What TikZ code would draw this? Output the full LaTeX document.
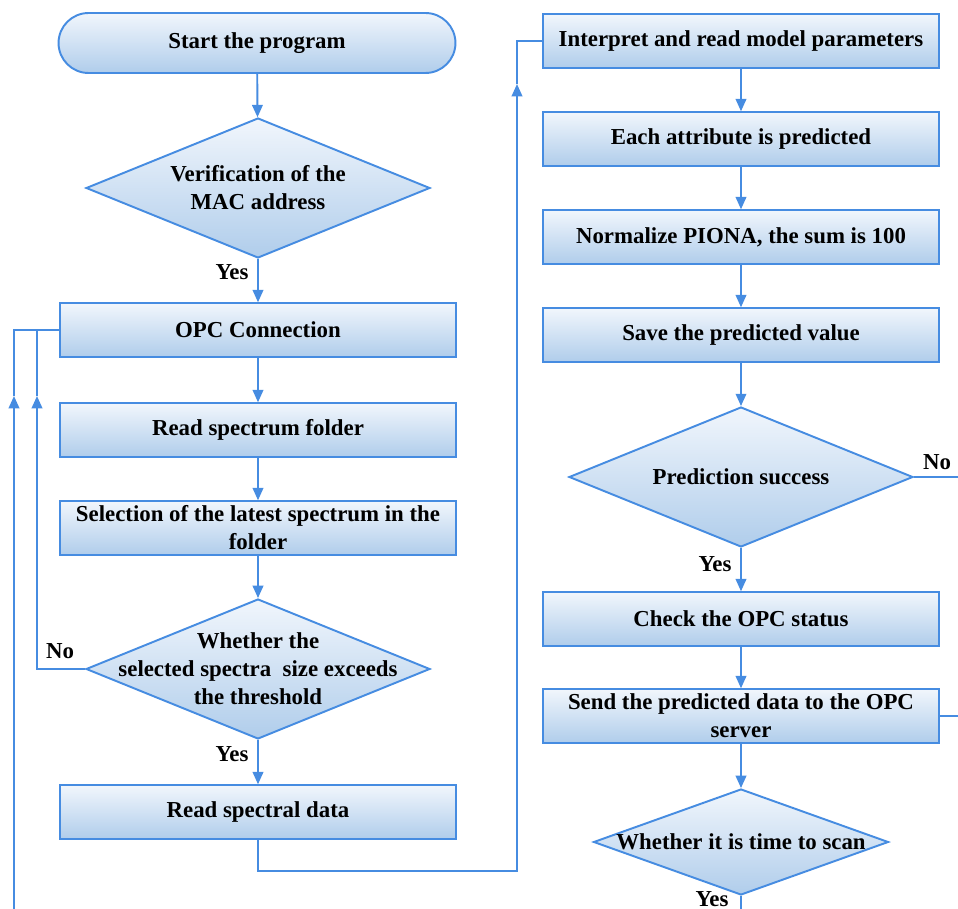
\documentclass[tikz,border=0pt]{standalone}
\usepackage{fontspec}
\setmainfont{Liberation Serif}
\usepackage{xcolor}
\usepackage{tikz}
\usetikzlibrary{shapes.geometric,arrows.meta}

\definecolor{flowblue}{RGB}{70,140,225}
\definecolor{boxtop}{RGB}{241,246,252}
\definecolor{boxbottom}{RGB}{176,205,235}

\tikzset{
   txt/.style={font=\fontsize{13}{16}\selectfont\bfseries,align=center},
   block/.style={txt,rectangle,draw=flowblue,line width=1.1pt,top color=boxtop,bottom color=boxbottom,
      minimum width=7.94cm,minimum height=1.07cm,inner sep=1pt},
   terminal/.style={block,rounded corners=0.6cm,minimum height=1.2cm},
   decision/.style={diamond,draw=flowblue,line width=1.1pt,top color=boxtop,bottom color=boxbottom,
      inner sep=0pt,minimum width=6.88cm,minimum height=2.8cm},
   line/.style={draw=flowblue,line width=1.1pt},
   arrow/.style={line,-{Triangle[length=7pt,width=6pt]}},
}

\begin{document}
\begin{tikzpicture}[x=0.02cm,y=-0.02cm]
   \useasboundingbox (0,0) rectangle (958,909);

   % Left column
   \begin{scope}
      \node[terminal] (start) at (257,43) {Start the program};
      \node[decision] (mac) at (258,188) {};
      \node[txt] (mactext) at (mac) {Verification of the\\MAC address};
      \node[block] (opc) at (258,330) {OPC Connection};
      \node[block] (folder) at (258,430) {Read spectrum folder};
      \node[block] (latest) at (258,528) {Selection of the latest spectrum in the\\folder};
      \node[decision] (size) at (258,669) {};
      \node[txt] (sizetext) at (size) {Whether the\\selected spectra\ \ size exceeds\\the threshold};
      \node[block] (spectral) at (258,812) {Read spectral data};

      \node[txt] (macyes) at (232,272) {Yes};
      \node[txt] (sizeyes) at (232,754) {Yes};
      \node[txt] (sizeno) at (60,651) {No};

      \draw[arrow] (start) -- (mac);
      \draw[arrow] (mac) -- (opc);
      \draw[arrow] (opc) -- (folder);
      \draw[arrow] (folder) -- (latest);
      \draw[arrow] (latest) -- (size);
      \draw[arrow] (size) -- (spectral);

      % loops back to OPC
      \coordinate (innertip) at (37,396);
      \coordinate (outerfoot) at (14,909);
      \coordinate (outertip) at (14,396);
      \draw[arrow] (size.west) -| (innertip);
      \draw[line] (innertip) |- (opc.west);
      \draw[arrow] (outerfoot) -- (outertip);
      \draw[line] (outertip) |- (opc.west);
   \end{scope}

   % Right column
   \begin{scope}
      \node[block] (params) at (741,41) {Interpret and read model parameters};
      \node[block] (attr) at (741,139) {Each attribute is predicted};
      \node[block] (piona) at (741,237) {Normalize PIONA, the sum is 100};
      \node[block] (save) at (741,335) {Save the predicted value};
      \node[decision] (success) at (741,477) {};
      \node[txt] (successtext) at (success) {Prediction success};
      \node[block] (status) at (741,619) {Check the OPC status};
      \node[block] (send) at (741,716) {Send the predicted data to the OPC\\server};
      \node[decision,minimum width=5.9cm,minimum height=2.12cm] (scan) at (741,842) {};
      \node[txt] (scantext) at (scan) {Whether it is time to scan};

      \node[txt] (successno) at (937,462) {No};
      \node[txt] (successyes) at (715,564) {Yes};
      \node[txt] (scanyes) at (712,899) {Yes};

      \draw[arrow] (params) -- (attr);
      \draw[arrow] (attr) -- (piona);
      \draw[arrow] (piona) -- (save);
      \draw[arrow] (save) -- (success);
      \draw[arrow] (success) -- (status);
      \draw[arrow] (status) -- (send);
      \draw[arrow] (send) -- (scan);

      \coordinate (noend) at (958,477);
      \coordinate (sendend) at (958,716);
      \coordinate (scanend) at (741,909);
      \draw[line] (success.east) -- (noend);
      \draw[line] (send.east) -- (sendend);
      \draw[line] (scan.south) -- (scanend);
   \end{scope}

   % from spectral data to model parameters
   \coordinate (crossbend) at (517,871);
   \coordinate (crosstip) at (517,84);
   \draw[arrow] (spectral.south) |- (crossbend) -- (crosstip);
   \draw[line] (crosstip) |- (params.west);
\end{tikzpicture}
\end{document}
